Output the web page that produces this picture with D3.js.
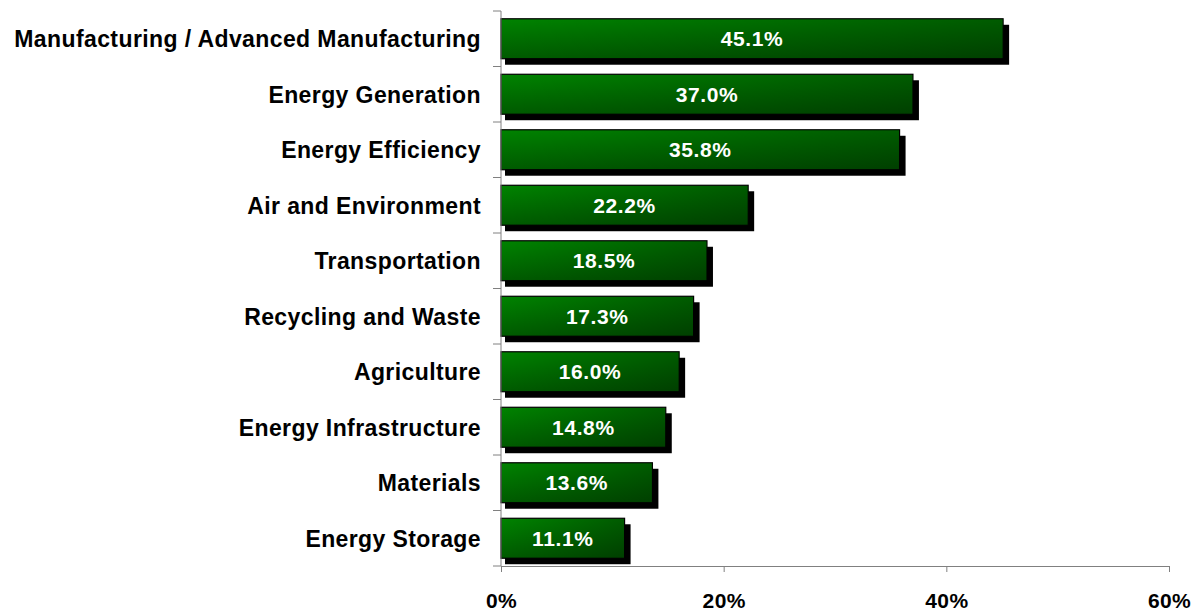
<!DOCTYPE html>
<html>
<head>
<meta charset="utf-8">
<script src="https://cdn.jsdelivr.net/npm/d3@7"></script>
<style>
  body { margin: 0; background: #fff; }
  svg { display: block; font-family: Arial, "Liberation Sans", sans-serif; }
</style>
</head>
<body>
<div id="chart"></div>
<script>
const categories = [
  "Manufacturing / Advanced Manufacturing",
  "Energy Generation",
  "Energy Efficiency",
  "Air and Environment",
  "Transportation",
  "Recycling and Waste",
  "Agriculture",
  "Energy Infrastructure",
  "Materials",
  "Energy Storage"
];
const values = [45.1, 37.0, 35.8, 22.2, 18.5, 17.3, 16.0, 14.8, 13.6, 11.1];
const xTicks = [0, 20, 40, 60];

const width = 1203, height = 612;
const margin = { top: 11, right: 34, bottom: 46, left: 501 };

const svg = d3.select("#chart").append("svg")
  .attr("width", width).attr("height", height);

// bar fill: green going darker downwards and to the right
const defs = svg.append("defs");
const grad = defs.append("linearGradient")
  .attr("id", "barGrad")
  .attr("x1", 0).attr("y1", 0).attr("x2", 0).attr("y2", 1);
grad.append("stop").attr("offset", "0%").attr("stop-color", "#008300");
grad.append("stop").attr("offset", "100%").attr("stop-color", "#005a00");
const shade = defs.append("linearGradient")
  .attr("id", "barShade")
  .attr("x1", 0).attr("y1", 0).attr("x2", 1).attr("y2", 0);
shade.append("stop").attr("offset", "0%").attr("stop-color", "#000").attr("stop-opacity", 0);
shade.append("stop").attr("offset", "100%").attr("stop-color", "#000").attr("stop-opacity", 0.3);

const x = d3.scaleLinear().domain([0, 60]).range([margin.left, width - margin.right]);
const y = d3.scaleBand().domain(categories)
  .range([margin.top, height - margin.bottom])
  .paddingInner(0.28).paddingOuter(0.14);

const data = categories.map((c, i) => ({ cat: c, v: values[i] }));

// shadows
svg.append("g").selectAll("rect")
  .data(data).enter().append("rect")
  .attr("x", x(0) + 4)
  .attr("y", (d) => y(d.cat) + 6)
  .attr("width", (d) => x(d.v) - x(0) + 2)
  .attr("height", y.bandwidth())
  .attr("fill", "#000");

// bars
const bars = svg.append("g");
bars.selectAll(".bar")
  .data(data).enter().append("rect")
  .attr("class", "bar")
  .attr("x", x(0))
  .attr("y", (d) => y(d.cat))
  .attr("width", (d) => x(d.v) - x(0))
  .attr("height", y.bandwidth())
  .attr("fill", "url(#barGrad)")
  .attr("stroke", "#000")
  .attr("stroke-width", 1.2);
bars.selectAll(".shade")
  .data(data).enter().append("rect")
  .attr("class", "shade")
  .attr("x", x(0) + 0.6)
  .attr("y", (d) => y(d.cat) + 0.6)
  .attr("width", (d) => x(d.v) - x(0) - 1.2)
  .attr("height", y.bandwidth() - 1.2)
  .attr("fill", "url(#barShade)");

// value labels
svg.append("g").selectAll("text")
  .data(data).enter().append("text")
  .attr("x", (d) => (x(0) + x(d.v)) / 2)
  .attr("y", (d) => y(d.cat) + y.bandwidth() / 2)
  .attr("dy", "0.36em")
  .attr("text-anchor", "middle")
  .attr("fill", "#fff")
  .style("font-size", "21px")
  .style("font-weight", "bold")
  .style("letter-spacing", "0.6px")
  .text((d) => d.v.toFixed(1) + "%");

// y axis
const yAxis = svg.append("g")
  .attr("transform", `translate(${margin.left},0)`);
yAxis.append("line")
  .attr("x1", 0).attr("x2", 0)
  .attr("y1", margin.top).attr("y2", height - margin.bottom)
  .attr("stroke", "#808080");
const bounds = d3.range(categories.length + 1).map((i) => margin.top + i * y.step());
yAxis.selectAll(".ytick")
  .data(bounds).enter().append("line")
  .attr("class", "ytick")
  .attr("x1", -8).attr("x2", 0)
  .attr("y1", (d) => d).attr("y2", (d) => d)
  .attr("stroke", "#808080");
yAxis.selectAll("text")
  .data(categories).enter().append("text")
  .attr("x", -20)
  .attr("y", (d) => y(d) + y.bandwidth() / 2)
  .attr("dy", "0.36em")
  .attr("text-anchor", "end")
  .attr("fill", "#000")
  .style("font-size", "23px")
  .style("font-weight", "bold")
  .style("letter-spacing", "0.4px")
  .text((d) => d);

// x axis
const xAxis = d3.axisBottom(x)
  .tickValues(xTicks)
  .tickFormat((d) => d + "%")
  .tickSize(6)
  .tickSizeOuter(0)
  .tickPadding(21);
svg.append("g")
  .attr("transform", `translate(0,${height - margin.bottom})`)
  .call(xAxis)
  .call((g) => g.select(".domain").attr("stroke", "#808080"))
  .call((g) => g.selectAll(".tick line").attr("stroke", "#808080"))
  .call((g) => g.selectAll(".tick text")
    .attr("fill", "#000")
    .style("font-size", "21px")
    .style("font-weight", "bold")
    .style("letter-spacing", "0.4px")
    .style("font-family", "Arial, 'Liberation Sans', sans-serif"));
</script>
</body>
</html>
